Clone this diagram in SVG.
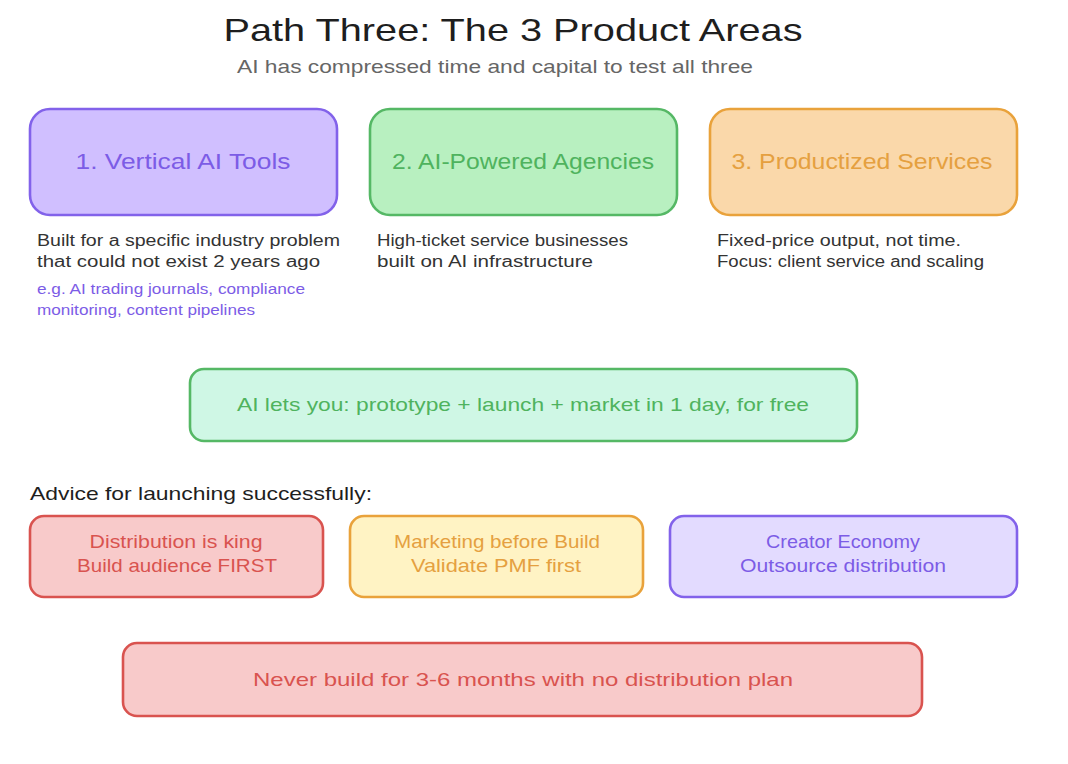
<svg xmlns="http://www.w3.org/2000/svg" width="1068" height="764" viewBox="0 0 1068 764">
<style>
text{font-family:"Liberation Sans","DejaVu Sans",sans-serif;}
.title{font-size:32px;fill:#1e1e1e;}
.sub{font-size:19px;fill:#666;}
.head{font-size:22px;text-anchor:middle;}
.desc{font-size:16px;fill:#333;}
.eg{font-size:15px;fill:#7c5ce6;}
.mid{font-size:19px;text-anchor:middle;}
.box{stroke-width:2.6;}
.p{fill:#d0bfff;stroke:#8262ea;}
.g{fill:#b8f0c0;stroke:#55b865;}
.o{fill:#fad8aa;stroke:#e9a23b;}
.mint{fill:#cff7e5;stroke:#55b865;}
.r{fill:#f8caca;stroke:#d9534f;}
.y{fill:#fff3c4;stroke:#e9a23b;}
.lp{fill:#e3dbff;stroke:#8262ea;}
.tp{fill:#7c5ce6;}
.tg{fill:#4fb35e;}
.to{fill:#e5a040;}
.tr{fill:#d9534f;}
</style>
<g id="title">
<text class="title" x="513" y="41" text-anchor="middle" textLength="579" lengthAdjust="spacingAndGlyphs">Path Three: The 3 Product Areas</text>
<text class="sub" x="495" y="73" text-anchor="middle" textLength="516" lengthAdjust="spacingAndGlyphs">AI has compressed time and capital to test all three</text>
</g>
<g id="node-vertical">
<rect class="box p" x="30" y="109" width="307" height="106" rx="20"/>
<text class="head tp" x="183" y="169" textLength="215" lengthAdjust="spacingAndGlyphs">1. Vertical AI Tools</text>
<text class="desc" x="37" y="246" textLength="303" lengthAdjust="spacingAndGlyphs">Built for a specific industry problem</text>
<text class="desc" x="37" y="267" textLength="283" lengthAdjust="spacingAndGlyphs">that could not exist 2 years ago</text>
<text class="eg" x="37" y="294" textLength="268" lengthAdjust="spacingAndGlyphs">e.g. AI trading journals, compliance</text>
<text class="eg" x="37" y="315" textLength="218" lengthAdjust="spacingAndGlyphs">monitoring, content pipelines</text>
</g>
<g id="node-agencies">
<rect class="box g" x="370" y="109" width="307" height="106" rx="20"/>
<text class="head tg" x="523" y="169" textLength="262" lengthAdjust="spacingAndGlyphs">2. AI-Powered Agencies</text>
<text class="desc" x="377" y="246" textLength="251" lengthAdjust="spacingAndGlyphs">High-ticket service businesses</text>
<text class="desc" x="377" y="267" textLength="216" lengthAdjust="spacingAndGlyphs">built on AI infrastructure</text>
</g>
<g id="node-productized">
<rect class="box o" x="710" y="109" width="307" height="106" rx="20"/>
<text class="head to" x="862" y="169" textLength="261" lengthAdjust="spacingAndGlyphs">3. Productized Services</text>
<text class="desc" x="717" y="246" textLength="244" lengthAdjust="spacingAndGlyphs">Fixed-price output, not time.</text>
<text class="desc" x="717" y="267" textLength="267" lengthAdjust="spacingAndGlyphs">Focus: client service and scaling</text>
</g>
<g id="node-ai-lets">
<rect class="box mint" x="190" y="369" width="667" height="72" rx="14"/>
<text class="mid tg" x="523" y="411" textLength="572" lengthAdjust="spacingAndGlyphs">AI lets you: prototype + launch + market in 1 day, for free</text>
</g>
<g id="advice-label">
<text x="30" y="500" font-size="19" fill="#1e1e1e" textLength="342" lengthAdjust="spacingAndGlyphs">Advice for launching successfully:</text>
</g>
<g id="node-distribution">
<rect class="box r" x="30" y="516" width="293" height="81" rx="14"/>
<text class="mid tr" x="176" y="548" font-size="17" textLength="173" lengthAdjust="spacingAndGlyphs">Distribution is king</text>
<text class="mid tr" x="177" y="572" font-size="17" textLength="200" lengthAdjust="spacingAndGlyphs">Build audience FIRST</text>
</g>
<g id="node-marketing">
<rect class="box y" x="350" y="516" width="293" height="81" rx="14"/>
<text class="mid to" x="497" y="548" font-size="17" textLength="206" lengthAdjust="spacingAndGlyphs">Marketing before Build</text>
<text class="mid to" x="496" y="572" font-size="17" textLength="170" lengthAdjust="spacingAndGlyphs">Validate PMF first</text>
</g>
<g id="node-creator">
<rect class="box lp" x="670" y="516" width="347" height="81" rx="14"/>
<text class="mid tp" x="843" y="548" font-size="17" textLength="154" lengthAdjust="spacingAndGlyphs">Creator Economy</text>
<text class="mid tp" x="843" y="572" font-size="17" textLength="206" lengthAdjust="spacingAndGlyphs">Outsource distribution</text>
</g>
<g id="node-never">
<rect class="box r" x="123" y="643" width="799" height="73" rx="14"/>
<text class="mid tr" x="523" y="686" textLength="540" lengthAdjust="spacingAndGlyphs">Never build for 3-6 months with no distribution plan</text>
</g>
<g id="connectors"/>
</svg>
